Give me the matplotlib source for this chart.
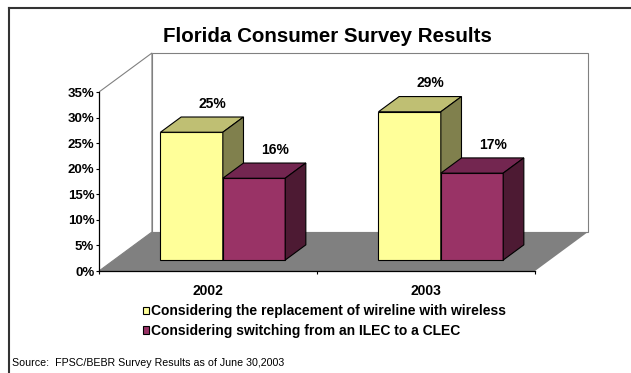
import matplotlib
matplotlib.use('Agg')
import matplotlib.pyplot as plt
from matplotlib.patches import Polygon, Patch
from matplotlib.lines import Line2D

plt.rcParams['font.family'] = ['Liberation Sans', 'DejaVu Sans']

# Survey results (percent of respondents)
years = ['2002', '2003']
series_names = ['Considering the replacement of wireline with wireless',
                'Considering switching from an ILEC to a CLEC']
wireless = [25, 29]
clec = [16, 17]
yticks = [0, 5, 10, 15, 20, 25, 30, 35]

# front / top / side shades for each series
shades = [('#FFFF99', '#BFBF73', '#80804D'),
          ('#993366', '#732650', '#4D1A33')]

# oblique depth of the 3D box (x in category units, y in percent)
DX, DY = 0.243, 7.63
f_front, f_back = 0.28, 0.67
bar_w = 0.286
ymax = 35

W, H = 631, 373
fig = plt.figure(figsize=(W / 100, H / 100), dpi=100)
ax = fig.add_axes([99 / W, 102 / H, 2.25 * 218 / W, 43 * 5.114 / H])
ax.set_xlim(-0.5, 1.75)
ax.set_ylim(0, 43)

# walls and floor
xl, xr = -0.5, 1.5
ax.add_patch(Polygon([(xl, 0), (xl, ymax), (xl + DX, ymax + DY), (xl + DX, DY)],
                     closed=True, fc='white', ec='#808080', lw=0.8, zorder=1))
ax.add_patch(Polygon([(xl + DX, DY), (xr + DX, DY), (xr + DX, ymax + DY),
                      (xl + DX, ymax + DY)],
                     closed=True, fc='white', ec='#808080', lw=0.8, zorder=1))
ax.add_patch(Polygon([(xl, 0), (xr, 0), (xr + DX, DY), (xl + DX, DY)],
                     closed=True, fc='#808080', ec='none', zorder=2))


def draw_bar(x0, x1, v, colors, z):
    front, top, side = colors
    fx, fy = f_front * DX, f_front * DY
    bx, by = f_back * DX, f_back * DY
    faces = [
        ([(x0 + fx, fy), (x1 + fx, fy), (x1 + fx, v + fy), (x0 + fx, v + fy)], front),
        ([(x0 + fx, v + fy), (x1 + fx, v + fy), (x1 + bx, v + by), (x0 + bx, v + by)], top),
        ([(x1 + fx, fy), (x1 + bx, by), (x1 + bx, v + by), (x1 + fx, v + fy)], side),
    ]
    for pts, c in faces:
        ax.add_patch(Polygon(pts, closed=True, fc=c, ec='black', lw=0.8,
                             zorder=z, clip_on=False))
    ax.annotate('%d%%' % v, xy=((x0 + x1) / 2 + bx, v + by), xytext=(0, 9.5),
                textcoords='offset points', ha='center', va='center',
                fontsize=10, fontweight='bold', zorder=10)


z = 3
for i, year in enumerate(years):
    for j, vals in enumerate([wireless, clec]):
        x0 = i - bar_w + j * bar_w
        draw_bar(x0, x0 + bar_w, vals[i], shades[j], z)
        z += 1

# axes: front y axis and floor edge
for s in ['top', 'right']:
    ax.spines[s].set_visible(False)
ax.spines['left'].set_bounds(0, ymax)
ax.spines['bottom'].set_bounds(xl, xr)
for s in ['left', 'bottom']:
    ax.spines[s].set_linewidth(0.9)
    ax.spines[s].set_zorder(3)

ax.set_yticks(yticks)
ax.set_yticklabels(['%d%%' % t for t in yticks], fontweight='bold', fontsize=9.5)
ax.tick_params(axis='y', direction='out', length=2.2, width=0.8, pad=1.2)

ax.set_xticks([-0.5, 0.5, 1.5])
ax.set_xticklabels([])
ax.set_xticks([0, 1], minor=True)
ax.set_xticklabels(years, minor=True, fontweight='bold', fontsize=10)
ax.tick_params(axis='x', which='major', direction='out', length=2.5, width=0.8)
ax.tick_params(axis='x', which='minor', length=0, pad=9.3)

fig.text(327 / W, 1 - 41.7 / H, 'Florida Consumer Survey Results',
         fontsize=14.8, fontweight='bold', ha='center', va='baseline')

handles = [Patch(facecolor=shades[k][0], edgecolor='black', lw=0.8) for k in range(2)]
fig.legend(handles, series_names, loc='upper left',
           bbox_to_anchor=(142.5 / W, 1 - 304.5 / H), frameon=False,
           handlelength=0.45, handleheight=0.45, handletextpad=0.18,
           labelspacing=0.4, borderaxespad=0, borderpad=0,
           prop={'weight': 'bold', 'size': 10})

fig.text(12.5 / W, 1 - 363 / H, 'Source:  FPSC/BEBR Survey Results as of June 30,2003',
         fontsize=7.7, va='center')

# slide frame
fig.add_artist(Line2D([9 / W, 1], [1 - 8 / H] * 2, color='#333333', lw=1.5))
fig.add_artist(Line2D([9 / W] * 2, [0, 1 - 8 / H], color='#333333', lw=1.5))

fig.savefig('out.png', dpi=100)
